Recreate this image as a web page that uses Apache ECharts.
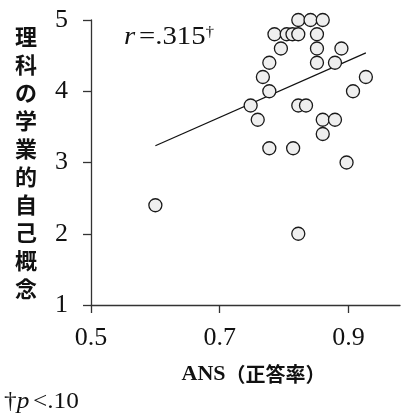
<!DOCTYPE html>
<html>
<head>
<meta charset="utf-8">
<script src="https://cdn.jsdelivr.net/npm/echarts@6/dist/echarts.min.js"></script>
<style>
  html, body { margin: 0; padding: 0; background: #fff; }
  #chart { width: 402px; height: 414px; }
</style>
</head>
<body>
<div id="chart"></div>
<script>
// ANS accuracy (x) and science self-concept (y) for each student
const ansRate = [
  0.822, 0.841, 0.860,
  0.785, 0.804, 0.813, 0.822, 0.851,
  0.795, 0.851, 0.889,
  0.777, 0.851, 0.879,
  0.767, 0.927,
  0.777, 0.907,
  0.748, 0.822, 0.834,
  0.759, 0.860, 0.879,
  0.860,
  0.777, 0.814,
  0.897,
  0.600,
  0.822
];
const selfConcept = [
  5.0, 5.0, 5.0,
  4.8, 4.8, 4.8, 4.8, 4.8,
  4.6, 4.6, 4.6,
  4.4, 4.4, 4.4,
  4.2, 4.2,
  4.0, 4.0,
  3.8, 3.8, 3.8,
  3.6, 3.6, 3.6,
  3.4,
  3.2, 3.2,
  3.0,
  2.4,
  2.0
];
// fitted regression line endpoints (across the observed x range)
const fitX = [0.600, 0.927];
const fitY = [3.235, 4.539];

const xTicks = [0.5, 0.7, 0.9];
const yTicks = [1, 2, 3, 4, 5];

const yName = ['理', '科', 'の', '学', '業', '的', '自', '己', '概', '念'];

const serif = '"Liberation Serif", "Times New Roman", serif';
const gothic = '"Noto Sans CJK JP", sans-serif';

const points = ansRate.map((x, i) => [x, selfConcept[i]]);
const fitLine = fitX.map((x, i) => [x, fitY[i]]);

const chart = echarts.init(document.getElementById('chart'), null, { renderer: 'canvas' });

chart.setOption({
  animation: false,
  backgroundColor: '#fff',
  grid: { left: 91, top: 20, right: 2, bottom: 109, containLabel: false },
  xAxis: {
    type: 'value',
    min: 0.5,
    max: 0.98,
    interval: 0.2,
    name: '{a|ANS}{b|（正答率）}',
    nameLocation: 'middle',
    nameGap: 58,
    nameTextStyle: {
      padding: [0, 0, 0, 16],
      rich: {
        a: { fontFamily: serif, fontWeight: 'bold', fontSize: 22, color: '#111' },
        b: { fontFamily: gothic, fontWeight: 'bold', fontSize: 20, color: '#111' }
      }
    },
    axisLine: { onZero: false, lineStyle: { color: '#333', width: 1.3 } },
    axisTick: { show: true, inside: false, length: 8, customValues: xTicks, lineStyle: { color: '#333', width: 1.3 } },
    axisLabel: {
      customValues: xTicks,
      margin: 20,
      fontFamily: serif,
      fontSize: 26,
      color: '#111',
      formatter: v => v.toFixed(1)
    },
    splitLine: { show: false }
  },
  yAxis: {
    type: 'value',
    min: 1,
    max: 5,
    interval: 1,
    name: yName.join('\n'),
    nameLocation: 'middle',
    nameRotate: 0,
    nameGap: 54,
    nameTextStyle: {
      fontFamily: gothic,
      fontWeight: 'bold',
      fontSize: 22,
      lineHeight: 28,
      padding: [0, 0, 7, 0],
      color: '#111'
    },
    axisLine: { onZero: false, lineStyle: { color: '#333', width: 1.3 } },
    axisTick: { show: true, inside: false, length: 8, lineStyle: { color: '#333', width: 1.3 } },
    axisLabel: {
      margin: 23,
      fontFamily: serif,
      fontSize: 26,
      color: '#111'
    },
    splitLine: { show: false }
  },
  series: [
    {
      type: 'line',
      data: fitLine,
      symbol: 'none',
      lineStyle: { color: '#111', width: 1.2 },
      z: 1,
      silent: true
    },
    {
      type: 'scatter',
      data: points,
      symbol: 'circle',
      symbolSize: 13,
      itemStyle: { color: '#efefef', borderColor: '#1a1a1a', borderWidth: 1.3, opacity: 1 },
      z: 3
    }
  ],
  graphic: [
    {
      type: 'text',
      x: 124,
      y: 25,
      scaleX: 1.15,
      style: {
        text: '{i|r} {n|=.315}{s|†}',
        rich: {
          i: { fontFamily: serif, fontStyle: 'italic', fontSize: 25, fill: '#111' },
          n: { fontFamily: serif, fontSize: 25, fill: '#111' },
          s: { fontFamily: serif, fontSize: 15, fill: '#111', verticalAlign: 'top', padding: [0, 0, 10, 0] }
        }
      }
    },
    {
      type: 'text',
      x: 4,
      y: 390,
      scaleX: 1.1,
      style: {
        text: '{n|†}{i|p} {n|<.10}',
        rich: {
          i: { fontFamily: serif, fontStyle: 'italic', fontSize: 23, fill: '#111' },
          n: { fontFamily: serif, fontSize: 23, fill: '#111' }
        }
      }
    }
  ]
});
</script>
</body>
</html>
